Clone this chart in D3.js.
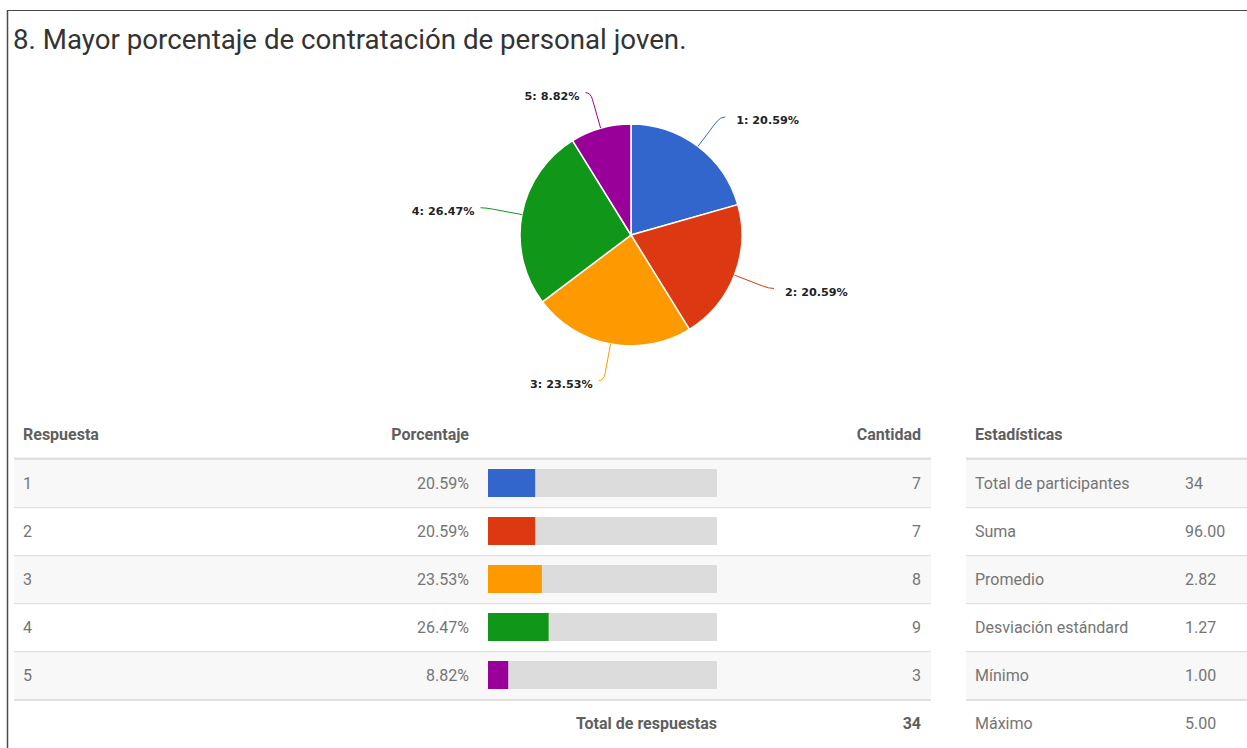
<!DOCTYPE html>
<html>
<head>
<meta charset="utf-8">
<script src="https://cdn.jsdelivr.net/npm/d3@7/dist/d3.min.js"></script>
<style>
  html, body { margin: 0; padding: 0; background: #fff; }
  svg { display: block; }
  .t { font-family: Roboto, "Noto Sans", sans-serif; }
</style>
</head>
<body>
<svg id="chart" width="1247" height="748"></svg>
<script>
// Survey question results
const title = "8. Mayor porcentaje de contratación de personal joven.";
const categories = ["1", "2", "3", "4", "5"];
const percentages = [20.59, 20.59, 23.53, 26.47, 8.82];
const counts = [7, 7, 8, 9, 3];
const sliceColors = ["#3366cc", "#dc3912", "#ff9900", "#109618", "#990099"];
const tableHeaders = ["Respuesta", "Porcentaje", "Cantidad"];
const totalLabel = "Total de respuestas";
const totalCount = 34;
const statsHeader = "Estadísticas";
const statLabels = ["Total de participantes", "Suma", "Promedio", "Desviación estándard", "Mínimo", "Máximo"];
const statValues = ["34", "96.00", "2.82", "1.27", "1.00", "5.00"];

const svg = d3.select("#chart");

// frame
svg.append("line").attr("x1", 7.5).attr("x2", 7.5).attr("y1", 10).attr("y2", 748)
  .attr("stroke", "#4a4a4a").attr("stroke-width", 1.5);
svg.append("line").attr("x1", 7).attr("x2", 1247).attr("y1", 10.5).attr("y2", 10.5)
  .attr("stroke", "#4a4a4a").attr("stroke-width", 1.2);

// title
svg.append("text").attr("class", "t").attr("x", 13).attr("y", 49)
  .attr("font-size", 27.7).attr("fill", "#333").text(title);

// ---- pie ----
const cx = 631, cy = 235, R = 111;
const pie = d3.pie().sort(null).value(d => d.v);
const arcs = pie(categories.map((c, i) => ({ c, v: percentages[i], col: sliceColors[i] })));
const arc = d3.arc().innerRadius(0).outerRadius(R);
const gPie = svg.append("g").attr("transform", `translate(${cx},${cy})`);

gPie.selectAll("path.slice").data(arcs).join("path")
  .attr("class", "slice")
  .attr("d", arc)
  .attr("fill", d => d.data.col)
  .attr("stroke", "#fff").attr("stroke-width", 1.5);

// leader lines and labels
const polar = (a, r) => [Math.sin(a) * r, -Math.cos(a) * r];
arcs.forEach(d => {
  const a = (d.startAngle + d.endAngle) / 2;
  const s = polar(a, R);
  const m = polar(a, R + 30);
  const c = polar(a, R + 37);
  const side = Math.sin(a) >= 0 ? 1 : -1;
  const e = [c[0] + side * 5, c[1]];
  gPie.append("path")
    .attr("d", `M${s[0]},${s[1]} L${m[0]},${m[1]} Q${c[0]},${c[1]} ${e[0]},${e[1]}`)
    .attr("fill", "none").attr("stroke", d.data.col).attr("stroke-width", 1);
  gPie.append("text")
    .attr("x", e[0] + side * (side > 0 ? 11 : 6)).attr("y", e[1] + 3.5)
    .attr("dy", "0.35em")
    .attr("text-anchor", side > 0 ? "start" : "end")
    .attr("font-family", "'DejaVu Sans', Verdana, sans-serif")
    .attr("font-weight", "bold").attr("font-size", 11.2).attr("fill", "#222")
    .text(`${d.data.c}: ${d.data.v.toFixed(2)}%`);
});

// ---- responses table ----
const tX0 = 14, tX1 = 931;
const headY = 434, rowTop = 460, rowH = 48;
const xResp = 23, xPct = 469, xCnt = 921;
const barX = 488, barW = 229, barH = 28;
const barScale = d3.scaleLinear().domain([0, 100]).range([0, barW]);

const headStyle = sel => sel.attr("class", "t").attr("font-size", 16)
  .attr("font-weight", "bold").attr("fill", "#5f5f5f").attr("dy", "0.35em");
const bodyStyle = sel => sel.attr("class", "t").attr("font-size", 16)
  .attr("fill", "#757575").attr("dy", "0.35em");

// row backgrounds
categories.forEach((c, i) => {
  const y = rowTop + i * rowH;
  svg.append("rect").attr("x", tX0).attr("y", y).attr("width", tX1 - tX0).attr("height", rowH)
    .attr("fill", i % 2 === 0 ? "#f8f8f8" : "#ffffff");
});
statLabels.forEach((s, i) => {
  const y = rowTop + i * rowH;
  svg.append("rect").attr("x", 966).attr("y", y).attr("width", 1247 - 966).attr("height", rowH)
    .attr("fill", i % 2 === 0 ? "#f8f8f8" : "#ffffff");
});

// header text
headStyle(svg.append("text").attr("x", xResp).attr("y", headY)).text(tableHeaders[0]);
headStyle(svg.append("text").attr("x", xPct).attr("y", headY).attr("text-anchor", "end")).text(tableHeaders[1]);
headStyle(svg.append("text").attr("x", xCnt).attr("y", headY).attr("text-anchor", "end")).text(tableHeaders[2]);
headStyle(svg.append("text").attr("x", 975).attr("y", headY)).text(statsHeader);

// header rules
[[tX0, tX1], [966, 1247]].forEach(([a, b]) => {
  svg.append("rect").attr("x", a).attr("y", 457.5).attr("width", b - a).attr("height", 2.5).attr("fill", "#e0e0e0");
});

// response rows
categories.forEach((c, i) => {
  const y = rowTop + i * rowH;
  const my = y + 23;
  bodyStyle(svg.append("text").attr("x", xResp).attr("y", my)).text(c);
  bodyStyle(svg.append("text").attr("x", xPct).attr("y", my).attr("text-anchor", "end"))
    .text(percentages[i].toFixed(2) + "%");
  svg.append("rect").attr("x", barX).attr("y", y + 9).attr("width", barW).attr("height", barH).attr("fill", "#dcdcdc");
  svg.append("rect").attr("x", barX).attr("y", y + 9).attr("width", barScale(percentages[i])).attr("height", barH)
    .attr("fill", sliceColors[i]);
  bodyStyle(svg.append("text").attr("x", xCnt).attr("y", my).attr("text-anchor", "end")).text(counts[i]);
  const last = i === categories.length - 1;
  svg.append("rect").attr("x", tX0).attr("y", y + rowH - 1).attr("width", tX1 - tX0)
    .attr("height", last ? 2 : 1.2).attr("fill", "#e0e0e0");
});

// total row
const totY = rowTop + categories.length * rowH + 23;
headStyle(svg.append("text").attr("x", barX + barW).attr("y", totY).attr("text-anchor", "end")).text(totalLabel);
headStyle(svg.append("text").attr("x", xCnt).attr("y", totY).attr("text-anchor", "end")).text(totalCount);

// statistics rows
statLabels.forEach((s, i) => {
  const y = rowTop + i * rowH;
  bodyStyle(svg.append("text").attr("x", 975).attr("y", y + 23)).text(s);
  bodyStyle(svg.append("text").attr("x", 1185).attr("y", y + 23)).text(statValues[i]);
  if (i < statLabels.length - 1) {
    svg.append("rect").attr("x", 966).attr("y", y + rowH - 1).attr("width", 1247 - 966)
      .attr("height", i === 4 ? 2 : 1.2).attr("fill", "#e0e0e0");
  }
});
</script>
</body>
</html>
